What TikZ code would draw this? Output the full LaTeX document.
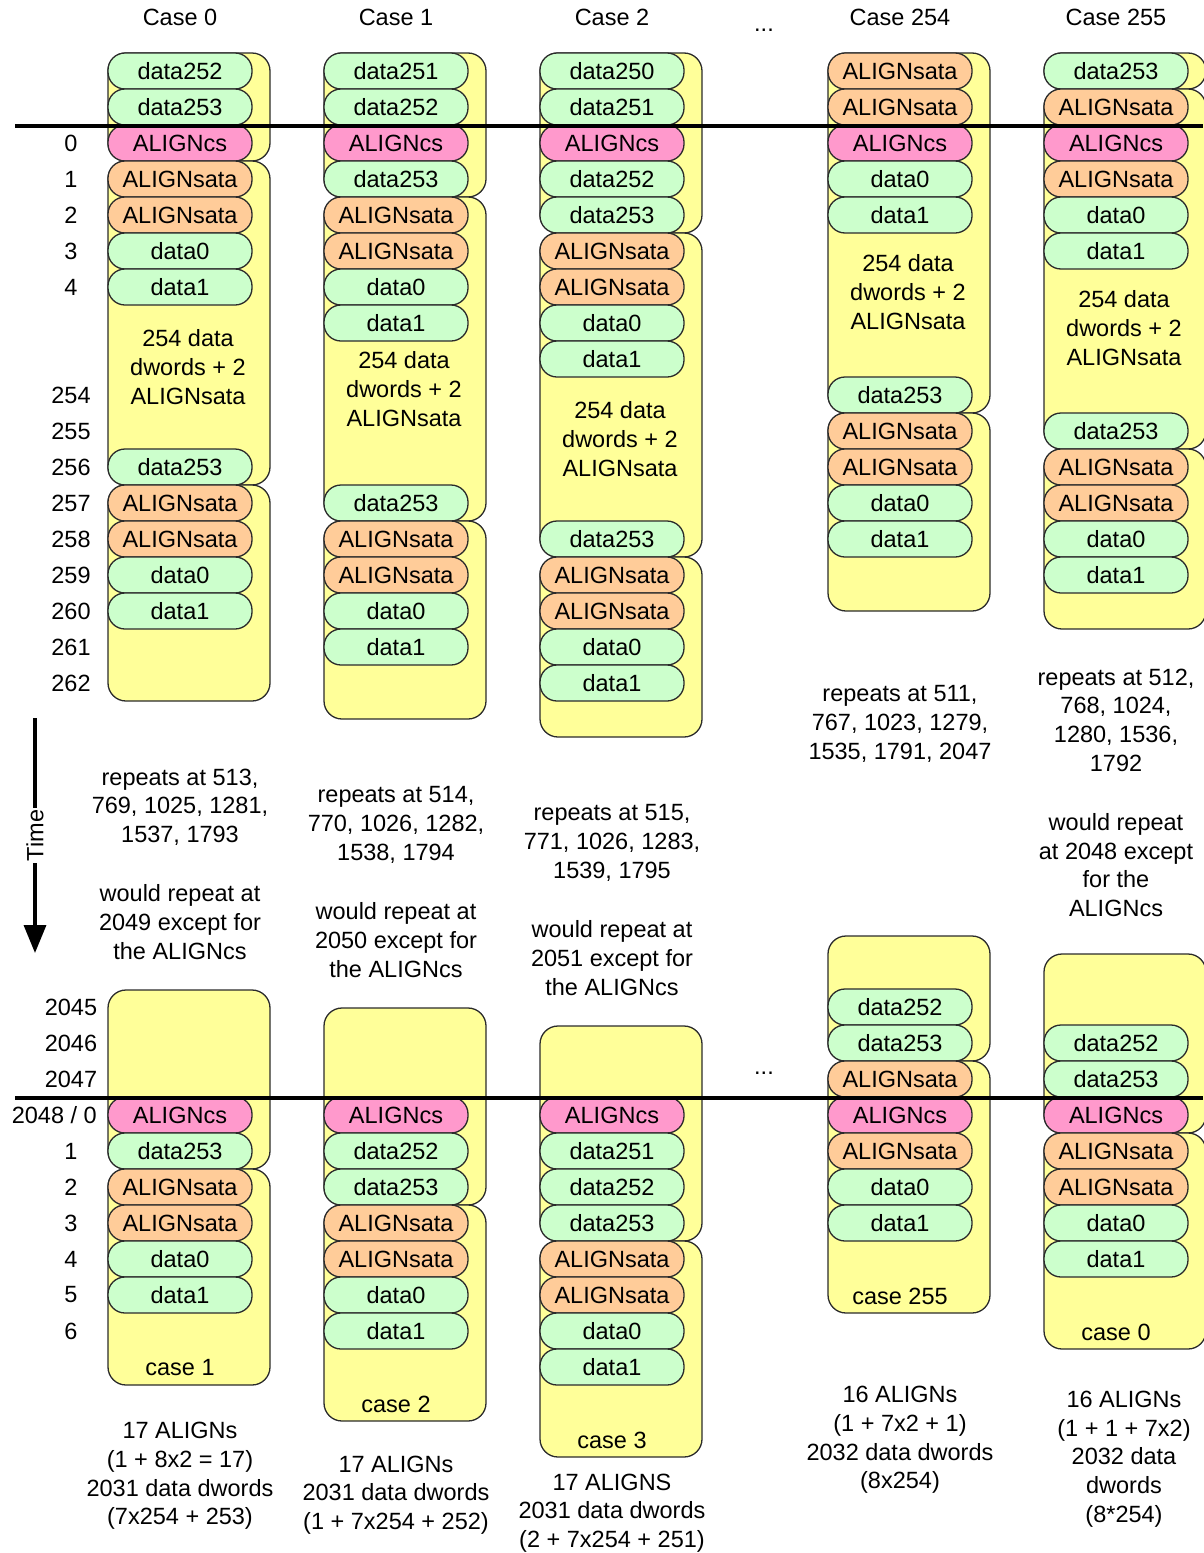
\documentclass[tikz,border=0pt]{standalone}
\usepackage{fontspec}
\setmainfont{Liberation Sans}
\usetikzlibrary{arrows.meta}

\definecolor{cellGreen}{HTML}{CCFFCC}
\definecolor{cellPink}{HTML}{FF99CC}
\definecolor{cellOrange}{HTML}{FFCC99}
\definecolor{frameYellow}{HTML}{FFFF99}
\definecolor{edgeGray}{HTML}{2B2B2B}

\begin{document}
\begin{tikzpicture}
[x=1pt,y=-1pt,
  every node/.style={font=\fontsize{23.5}{28.7}\selectfont},
  cellDecorate/.style={shape=rectangle,rounded corners=17pt,draw=edgeGray,line width=1.3pt,%
    minimum width=144pt,minimum height=36pt,inner sep=0pt},
  dataCell/.style={cellDecorate,fill=cellGreen},
  csCell/.style={cellDecorate,fill=cellPink},
  sataCell/.style={cellDecorate,fill=cellOrange},
  frameDecorate/.style={draw=edgeGray,line width=1.3pt,fill=frameYellow,rounded corners=18pt},
  noteDecorate/.style={align=center,inner sep=0pt},
  lineDecorate/.style={-,line width=3.2pt}]
\useasboundingbox (0,0) rectangle (1203,1553);
%% frames (left x / top / bottom)
\foreach \x/\t/\b in {108/53/161, 108/161/485, 108/485/701,
  324/53/197, 324/197/521, 324/521/719,
  540/53/233, 540/233/557, 540/557/737,
  828/53/413, 828/413/611,
  1044/53/89, 1044/89/449, 1044/449/629,
  108/990/1169, 108/1169/1385,
  324/1008/1205, 324/1205/1421,
  540/1026/1241, 540/1241/1457,
  828/936/1061, 828/1061/1313,
  1044/954/1133, 1044/1133/1349} {
  \path[frameDecorate] (\x,\t) rectangle (\x+162,\b);
}
%% cells, top half
\foreach \y/\txt/\sty [count=\i] in {71/data252/dataCell, 107/data253/dataCell,
  143/ALIGNcs/csCell, 179/ALIGNsata/sataCell, 215/ALIGNsata/sataCell,
  251/data0/dataCell, 287/data1/dataCell, 467/data253/dataCell,
  503/ALIGNsata/sataCell, 539/ALIGNsata/sataCell, 575/data0/dataCell, 611/data1/dataCell} {
  \node (top0-\i) at (180,\y) [\sty] {\txt};
}
\foreach \y/\txt/\sty [count=\i] in {71/data251/dataCell, 107/data252/dataCell,
  143/ALIGNcs/csCell, 179/data253/dataCell, 215/ALIGNsata/sataCell, 251/ALIGNsata/sataCell,
  287/data0/dataCell, 323/data1/dataCell, 503/data253/dataCell,
  539/ALIGNsata/sataCell, 575/ALIGNsata/sataCell, 611/data0/dataCell, 647/data1/dataCell} {
  \node (top1-\i) at (396,\y) [\sty] {\txt};
}
\foreach \y/\txt/\sty [count=\i] in {71/data250/dataCell, 107/data251/dataCell,
  143/ALIGNcs/csCell, 179/data252/dataCell, 215/data253/dataCell,
  251/ALIGNsata/sataCell, 287/ALIGNsata/sataCell, 323/data0/dataCell, 359/data1/dataCell,
  539/data253/dataCell, 575/ALIGNsata/sataCell, 611/ALIGNsata/sataCell,
  647/data0/dataCell, 683/data1/dataCell} {
  \node (top2-\i) at (612,\y) [\sty] {\txt};
}
\foreach \y/\txt/\sty [count=\i] in {71/ALIGNsata/sataCell, 107/ALIGNsata/sataCell,
  143/ALIGNcs/csCell, 179/data0/dataCell, 215/data1/dataCell, 395/data253/dataCell,
  431/ALIGNsata/sataCell, 467/ALIGNsata/sataCell, 503/data0/dataCell, 539/data1/dataCell} {
  \node (top254-\i) at (900,\y) [\sty] {\txt};
}
\foreach \y/\txt/\sty [count=\i] in {71/data253/dataCell, 107/ALIGNsata/sataCell,
  143/ALIGNcs/csCell, 179/ALIGNsata/sataCell, 215/data0/dataCell, 251/data1/dataCell,
  431/data253/dataCell, 467/ALIGNsata/sataCell, 503/ALIGNsata/sataCell,
  539/data0/dataCell, 575/data1/dataCell} {
  \node (top255-\i) at (1116,\y) [\sty] {\txt};
}
%% cells, bottom half
\foreach \y/\txt/\sty [count=\i] in {1115/ALIGNcs/csCell, 1151/data253/dataCell,
  1187/ALIGNsata/sataCell, 1223/ALIGNsata/sataCell, 1259/data0/dataCell, 1295/data1/dataCell} {
  \node (bot0-\i) at (180,\y) [\sty] {\txt};
}
\foreach \y/\txt/\sty [count=\i] in {1115/ALIGNcs/csCell, 1151/data252/dataCell,
  1187/data253/dataCell, 1223/ALIGNsata/sataCell, 1259/ALIGNsata/sataCell,
  1295/data0/dataCell, 1331/data1/dataCell} {
  \node (bot1-\i) at (396,\y) [\sty] {\txt};
}
\foreach \y/\txt/\sty [count=\i] in {1115/ALIGNcs/csCell, 1151/data251/dataCell,
  1187/data252/dataCell, 1223/data253/dataCell, 1259/ALIGNsata/sataCell,
  1295/ALIGNsata/sataCell, 1331/data0/dataCell, 1367/data1/dataCell} {
  \node (bot2-\i) at (612,\y) [\sty] {\txt};
}
\foreach \y/\txt/\sty [count=\i] in {1007/data252/dataCell, 1043/data253/dataCell,
  1079/ALIGNsata/sataCell, 1115/ALIGNcs/csCell, 1151/ALIGNsata/sataCell,
  1187/data0/dataCell, 1223/data1/dataCell} {
  \node (bot254-\i) at (900,\y) [\sty] {\txt};
}
\foreach \y/\txt/\sty [count=\i] in {1043/data252/dataCell, 1079/data253/dataCell,
  1115/ALIGNcs/csCell, 1151/ALIGNsata/sataCell, 1187/ALIGNsata/sataCell,
  1223/data0/dataCell, 1259/data1/dataCell} {
  \node (bot255-\i) at (1116,\y) [\sty] {\txt};
}
%% time lines
\coordinate (lineTopA) at (15,126);
\coordinate (lineTopB) at (1203,126);
\coordinate (lineBotA) at (15,1098);
\coordinate (lineBotB) at (1203,1098);
\draw[lineDecorate] (lineTopA) -- (lineTopB);
\draw[lineDecorate] (lineBotA) -- (lineBotB);
%% headers
\foreach \x/\txt [count=\i] in {180/Case 0, 396/Case 1, 612/Case 2, 900/Case 254, 1116/Case 255} {
  \node (head\i) at (\x,17) {\txt};
}
\node (dotsTop) at (764,30) {...};
\node (dotsBot) at (764,1073) {...};
%% row numbers
\foreach \nodename/\y in {0/143, 1/179, 2/215, 3/251, 4/287, 254/395, 255/431, 256/467,
  257/503, 258/539, 259/575, 260/611, 261/647, 262/683} {
  \node (rowTop\nodename) at (71,\y) {\nodename};
}
\foreach \nodename/\y in {2045/1007, 2046/1043, 2047/1079, 1/1151, 2/1187, 3/1223,
  4/1259, 5/1295, 6/1331} {
  \node (rowBot\nodename) at (71,\y) {\nodename};
}
\node (rowBot0) at (97,1115) [anchor=east,inner sep=0pt] {2048 / 0};
%% time arrow
\coordinate (timeStart) at (35,718);
\coordinate (timeEnd) at (35,953);
\draw[line width=3.5pt,-{Triangle[length=28pt,width=22pt]}] (timeStart) --
  node (timeLabel) [rotate=90,fill=white,inner sep=2pt] {Time} (timeEnd);
%% notes inside frames
\node (span0) at (188,367) [noteDecorate] {254 data\\dwords + 2\\ALIGNsata};
\node (span1) at (404,389) [noteDecorate] {254 data\\dwords + 2\\ALIGNsata};
\node (span2) at (620,439) [noteDecorate] {254 data\\dwords + 2\\ALIGNsata};
\node (span254) at (908,292) [noteDecorate] {254 data\\dwords + 2\\ALIGNsata};
\node (span255) at (1124,328) [noteDecorate] {254 data\\dwords + 2\\ALIGNsata};
\node (end0) at (180,1368) {case 1};
\node (end1) at (396,1404) {case 2};
\node (end2) at (612,1440) {case 3};
\node (end254) at (900,1296) {case 255};
\node (end255) at (1116,1332) {case 0};
%% notes between halves
\node (rep0) at (180,807) [noteDecorate] {repeats at 513,\\769, 1025, 1281,\\1537, 1793};
\node (wrap0) at (180,922) [noteDecorate] {would repeat at\\2049 except for\\the ALIGNcs};
\node (rep1) at (396,825) [noteDecorate] {repeats at 514,\\770, 1026, 1282,\\1538, 1794};
\node (wrap1) at (396,940) [noteDecorate] {would repeat at\\2050 except for\\the ALIGNcs};
\node (rep2) at (612,843) [noteDecorate] {repeats at 515,\\771, 1026, 1283,\\1539, 1795};
\node (wrap2) at (612,958) [noteDecorate] {would repeat at\\2051 except for\\the ALIGNcs};
\node (rep254) at (900,724) [noteDecorate] {repeats at 511,\\767, 1023, 1279,\\1535, 1791, 2047};
\node (rep255) at (1116,720) [noteDecorate] {repeats at 512,\\768, 1024,\\1280, 1536,\\1792};
\node (wrap255) at (1116,865) [noteDecorate] {would repeat\\at 2048 except\\for the\\ALIGNcs};
%% totals
\node (sum0) at (180,1476) [noteDecorate] {17 ALIGNs\\(1 + 8x2 = 17)\\2031 data dwords\\(7x254 + 253)};
\node (sum1) at (396,1495) [noteDecorate] {17 ALIGNs\\2031 data dwords\\(1 + 7x254 + 252)};
\node (sum2) at (612,1513) [noteDecorate] {17 ALIGNS\\2031 data dwords\\(2 + 7x254 + 251)};
\node (sum254) at (900,1440) [noteDecorate] {16 ALIGNs\\(1 + 7x2 + 1)\\2032 data dwords\\(8x254)};
\node (sum255) at (1124,1459) [noteDecorate] {16 ALIGNs\\(1 + 1 + 7x2)\\2032 data\\dwords\\(8*254)};
\end{tikzpicture}
\end{document}
